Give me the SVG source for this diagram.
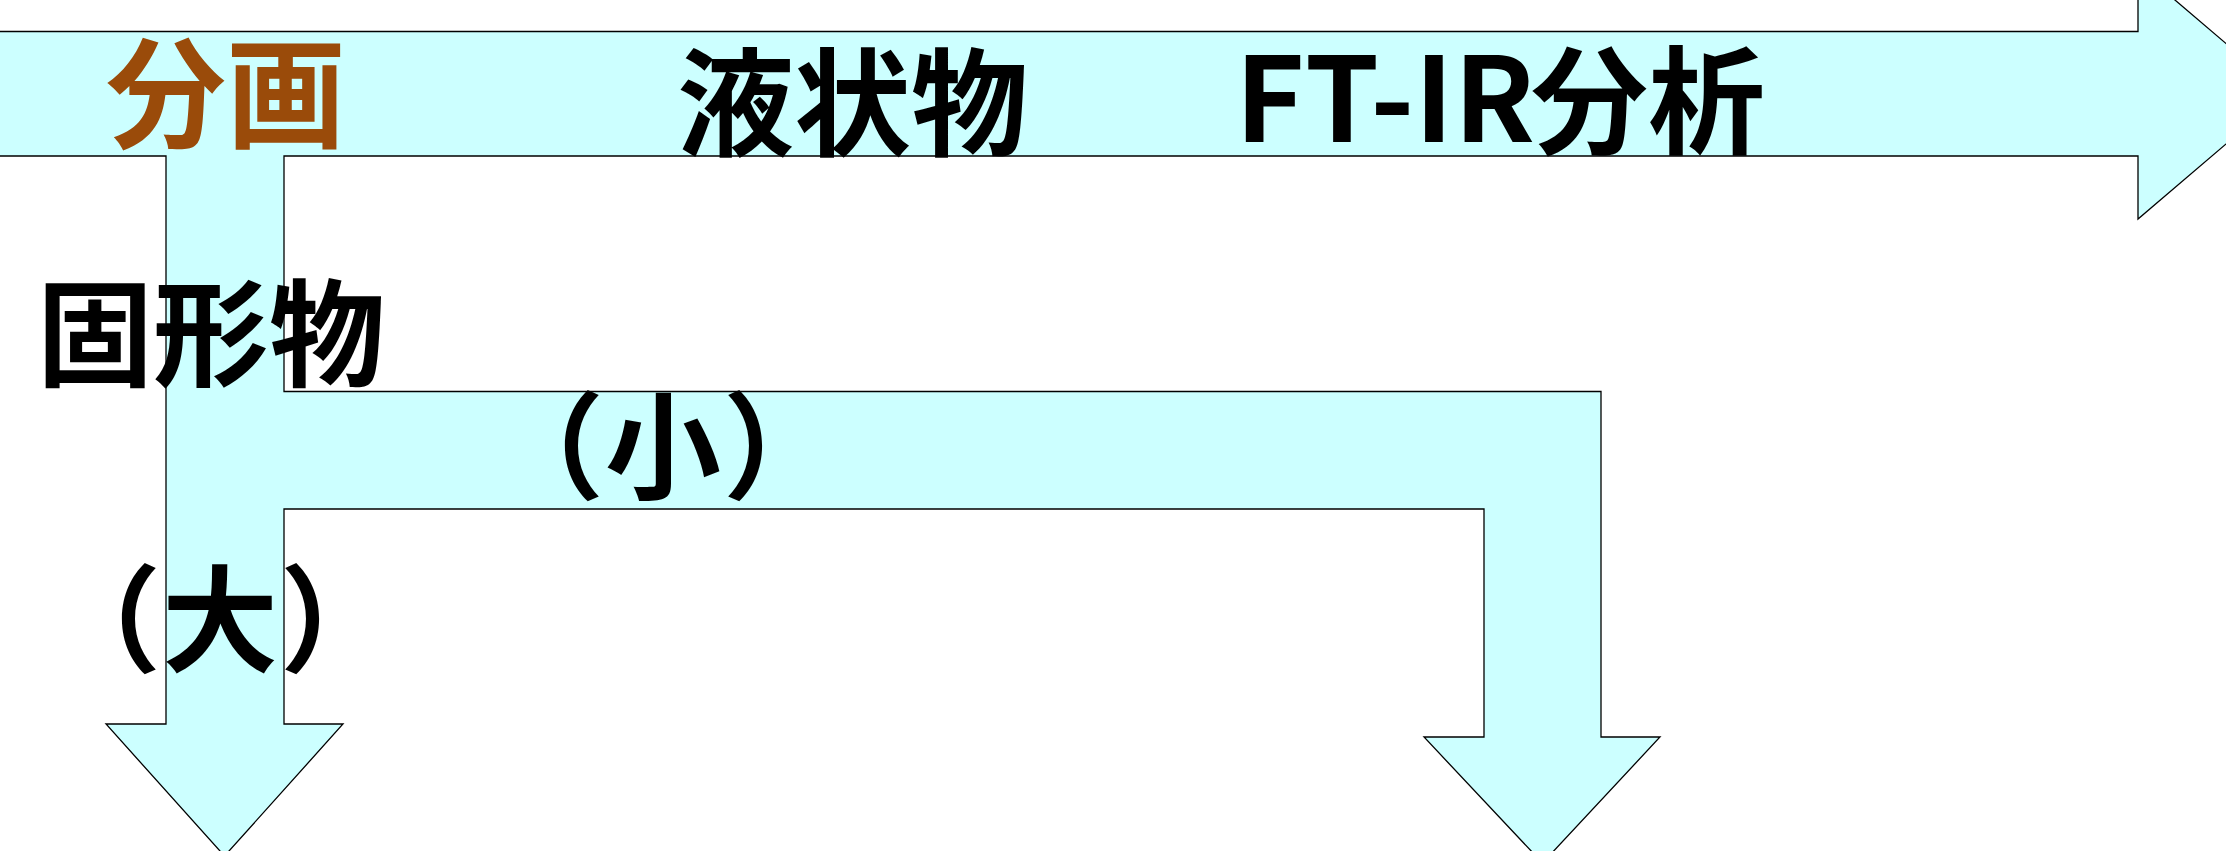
<svg xmlns="http://www.w3.org/2000/svg" width="2226" height="851" viewBox="0 0 2226 851">
<style>
.t{font-family:"Noto Sans CJK JP","Noto Sans CJK SC",sans-serif;font-weight:bold;fill:#000}
.brown{fill:#9A4B0A}
.arrow{fill:#CCFFFF;stroke:#000;stroke-width:1.3;stroke-linejoin:miter}
</style>
<rect width="2226" height="851" fill="#fff"/>
<g id="connectors">
<polygon class="arrow" points="-2,31.5 2138,31.5 2138,-31.5 2285,93.75 2138,219 2138,156 284,156 284,391.5 1601,391.5 1601,737 1660,737 1542.5,863 1424,737 1484,737 1484,509 284,509 284,724 343,724 224.5,856 106,724 166,724 166,156 -2,156"/>
</g>
<g id="node-bunkaku"><text class="t brown" x="106" y="139" font-size="120">分画</text></g>
<g id="node-ekijo"><text class="t" x="677" y="147" font-size="117">液状物</text></g>
<g id="node-ftir"><text class="t" y="142" font-size="117"><tspan x="1235" textLength="300" lengthAdjust="spacingAndGlyphs">FT-IR</tspan><tspan x="1531" y="145">分析</tspan></text></g>
<g id="node-kokei"><text class="t" x="37" y="377" font-size="116">固形物</text></g>
<g id="node-dai"><text class="t" y="663" font-size="116"><tspan x="45">（</tspan><tspan x="162">大</tspan><tspan x="280">）</tspan></text></g>
<g id="node-sho"><text class="t" y="490" font-size="116"><tspan x="488">（</tspan><tspan x="605">小</tspan><tspan x="723">）</tspan></text></g>
</svg>
